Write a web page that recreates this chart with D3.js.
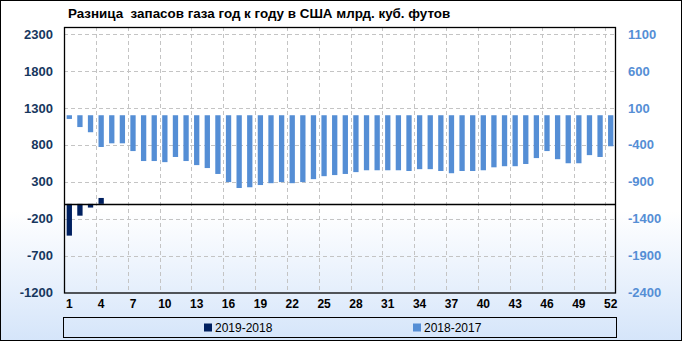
<!DOCTYPE html>
<html>
<head>
<meta charset="utf-8">
<script src="https://cdn.jsdelivr.net/npm/d3@7"></script>
<style>
  body { margin: 0; background: #fff; }
  svg { display: block; }
</style>
</head>
<body>
<script>
// week numbers on the category axis
const weeks = d3.range(1, 53);
const xTicks = [1, 4, 7, 10, 13, 16, 19, 22, 25, 28, 31, 34, 37, 40, 43, 46, 49, 52];
const leftTicks = [2300, 1800, 1300, 800, 300, -200, -700, -1200];
const rightTicks = [1100, 600, 100, -400, -900, -1400, -1900, -2400];

// 2019-2018 (left axis), only first weeks available
const diff1918 = [-430, -160, -50, 80];
// 2018-2017 (right axis)
const diff1817 = [-50, -160, -230, -430, -380, -380, -485, -620, -620, -635,
  -565, -620, -675, -715, -795, -905, -985, -975, -945, -920,
  -905, -920, -905, -865, -825, -810, -795, -770, -745, -745,
  -745, -745, -755, -730, -730, -755, -785, -755, -755, -745,
  -705, -690, -690, -660, -580, -485, -595, -650, -650, -540,
  -565, -420];

const seriesNames = ["2019-2018", "2018-2017"];
const colors = ["#002060", "#558ed5"];

const W = 682, H = 341;
const plot = {left: 64, right: 616, top: 27, bottom: 292.5};

const svg = d3.select("body").append("svg")
  .attr("width", W).attr("height", H);

// background gradient
const defs = svg.append("defs");
const grad = defs.append("linearGradient").attr("id", "bg")
  .attr("x1", 0).attr("y1", 0).attr("x2", 0).attr("y2", 1);
grad.append("stop").attr("offset", "0.62").attr("stop-color", "#ffffff");
grad.append("stop").attr("offset", "1").attr("stop-color", "#d5e5fa");

svg.append("rect").attr("x", 0.5).attr("y", 0.5)
  .attr("width", W - 1).attr("height", H - 1)
  .attr("fill", "url(#bg)").attr("stroke", "#000");

// scales
const x = d3.scaleBand().domain(weeks)
  .range([plot.left, plot.right]).paddingInner(0.5).paddingOuter(0.25);
const yL = d3.scaleLinear().domain([-1200, 2300]).range([plot.bottom, 34]);
const yR = d3.scaleLinear().domain([-2400, 1100]).range([plot.bottom, 34]);
const fmt = d => String(d); // plain hyphen minus, no thousands separator

// gridlines
const grid = svg.append("g")
  .attr("stroke", "#c4c4c4").attr("stroke-dasharray", "4,3");
grid.selectAll("line.h").data(leftTicks.filter(d => d > -1200)).join("line")
  .attr("x1", plot.left).attr("x2", plot.right)
  .attr("y1", d => Math.round(yL(d)) + 0.5).attr("y2", d => Math.round(yL(d)) + 0.5);
grid.selectAll("line.v").data(weeks.filter(w => w % 3 === 0 && w < 52)).join("line")
  .attr("x1", d => Math.round(plot.left + d * (plot.right - plot.left) / 52) + 0.5)
  .attr("x2", d => Math.round(plot.left + d * (plot.right - plot.left) / 52) + 0.5)
  .attr("y1", plot.top).attr("y2", plot.bottom);

// bars 2018-2017 on right axis
svg.append("g").attr("fill", colors[1])
  .selectAll("rect").data(diff1817).join("rect")
  .attr("x", (d, i) => x(weeks[i]))
  .attr("width", x.bandwidth())
  .attr("y", d => yR(Math.max(0, d)))
  .attr("height", d => Math.abs(yR(d) - yR(0)));

// bars 2019-2018 on left axis
svg.append("g").attr("fill", colors[0])
  .selectAll("rect").data(diff1918).join("rect")
  .attr("x", (d, i) => x(weeks[i]))
  .attr("width", x.bandwidth())
  .attr("y", d => yL(Math.max(0, d)))
  .attr("height", d => Math.abs(yL(d) - yL(0)));

// zero line and plot frame
svg.append("line")
  .attr("x1", plot.left).attr("x2", plot.right)
  .attr("y1", Math.round(yL(0)) + 0.5).attr("y2", Math.round(yL(0)) + 0.5)
  .attr("stroke", "#000").attr("stroke-width", 1.3);
svg.append("rect")
  .attr("x", plot.left + 0.5).attr("y", plot.top + 0.5)
  .attr("width", plot.right - plot.left - 1).attr("height", plot.bottom - plot.top)
  .attr("fill", "none").attr("stroke", "#000").attr("stroke-width", 1.3);

// axes
const fontFam = "'Liberation Sans', Arial, sans-serif";
const axL = svg.append("g").attr("transform", `translate(${plot.left},0)`)
  .call(d3.axisLeft(yL).tickValues(leftTicks).tickFormat(fmt).tickSize(0).tickPadding(11));
axL.select(".domain").remove();
axL.selectAll("text").attr("fill", "#17375e")
  .style("font", `bold 13px ${fontFam}`);

const axR = svg.append("g").attr("transform", `translate(${plot.right},0)`)
  .call(d3.axisRight(yR).tickValues(rightTicks).tickFormat(fmt).tickSize(0).tickPadding(12));
axR.select(".domain").remove();
axR.selectAll("text").attr("fill", colors[1])
  .style("font", `bold 13px ${fontFam}`);

const axB = svg.append("g").attr("transform", `translate(0,${plot.bottom})`)
  .call(d3.axisBottom(x).tickValues(xTicks).tickFormat(fmt).tickSize(0).tickPadding(7));
axB.select(".domain").remove();
axB.selectAll("text").attr("fill", "#000")
  .style("font", `bold 12px ${fontFam}`);

// title
svg.append("text").attr("x", 68).attr("y", 18)
  .style("font", `bold 13.4px ${fontFam}`).attr("fill", "#000")
  .attr("xml:space", "preserve")
  .text("Разница  запасов газа год к году в США млрд. куб. футов");

// legend
const lg = svg.append("g");
lg.append("rect").attr("x", 63.5).attr("y", 317.5)
  .attr("width", 553).attr("height", 20)
  .attr("fill", "none").attr("stroke", "#000");
const lgX = [204, 413];
seriesNames.forEach((name, i) => {
  lg.append("rect").attr("x", lgX[i]).attr("y", 323.5)
    .attr("width", 8).attr("height", 8).attr("fill", colors[i]);
  lg.append("text").attr("x", lgX[i] + 11).attr("y", 332)
    .style("font", `12px ${fontFam}`).attr("fill", "#000")
    .text(name);
});
</script>
</body>
</html>
